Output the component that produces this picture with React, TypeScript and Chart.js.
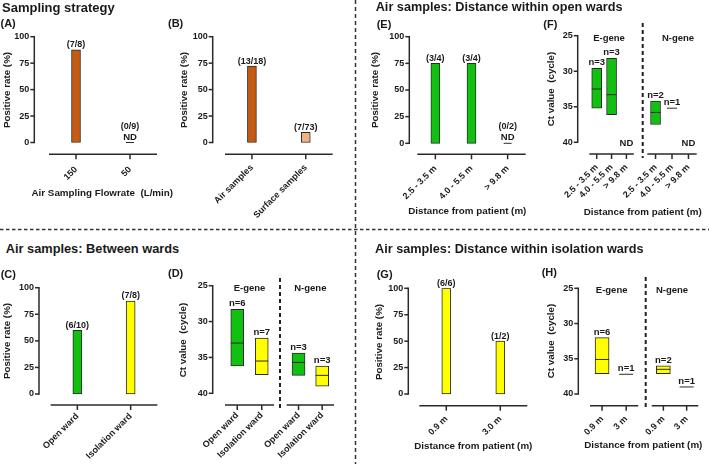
import React, { useEffect, useRef } from "react";
import { Chart, registerables } from "chart.js";

Chart.register(...registerables);

const FONT = "'Liberation Sans', Arial, Helvetica, sans-serif";
const INK = "#1a1a1a";
const AXIS = "#2a2a2a";
const ORANGE = "#c55a11";
const LIGHT_ORANGE = "#f4b183";
const GREEN = "#12c012";
const YELLOW = "#ffff00";

// ---- tick values ----
const rateTicks = [0, 25, 50, 75, 100];
const ctTicks = [25, 30, 35, 40];

// ---- (A) sampling flowrate ----
const flowCategories = ["150", "50"];
const flowRates = [87.5, 0];
const flowCounts = ["(7/8)", "(0/9)"];

// ---- (B) sample type ----
const sampleCategories = ["Air samples", "Surface samples"];
const sampleRates = [72.2, 9.6];
const sampleCounts = ["(13/18)", "(7/73)"];

// ---- (C) between wards ----
const wardCategories = ["Open ward", "Isolation ward"];
const wardRates = [60, 87.5];
const wardCounts = ["(6/10)", "(7/8)"];

// ---- (D) Ct between wards ----
const wardCtEgeneRange = [[28.3, 36.2], [32.3, 37.4]];
const wardCtEgeneMedian = [33.0, 35.5];
const wardCtEgeneN = ["n=6", "n=7"];
const wardCtNgeneRange = [[34.4, 37.5], [36.2, 39.0]];
const wardCtNgeneMedian = [35.7, 37.5];
const wardCtNgeneN = ["n=3", "n=3"];

// ---- (E) distance within open wards ----
const openDistCategories = ["2.5 - 3.5 m", "4.0 - 5.5 m", "> 9.8 m"];
const openDistRates = [75, 75, 0];
const openDistCounts = ["(3/4)", "(3/4)", "(0/2)"];

// ---- (F) Ct within open wards ----
const openCtEgeneRange = [[29.6, 35.2], [28.2, 36.1], null];
const openCtEgeneMedian = [32.5, 33.3, null];
const openCtEgeneN = ["n=3", "n=3", "ND"];
const openCtNgeneRange = [[34.2, 37.5], [35.2, 35.2], null];
const openCtNgeneMedian = [35.8, 35.2, null];
const openCtNgeneN = ["n=2", "n=1", "ND"];

// ---- (G) distance within isolation wards ----
const isoDistCategories = ["0.9 m", "3.0 m"];
const isoDistRates = [100, 50];
const isoDistCounts = ["(6/6)", "(1/2)"];

// ---- (H) Ct within isolation wards ----
const isoCtCategories = ["0.9 m", "3 m"];
const isoCtEgeneRange = [[32.0, 37.1], [37.2, 37.2]];
const isoCtEgeneMedian = [35.1, 37.2];
const isoCtEgeneN = ["n=6", "n=1"];
const isoCtNgeneRange = [[36.0, 37.1], [39.0, 39.0]];
const isoCtNgeneMedian = [36.5, 39.0];
const isoCtNgeneN = ["n=2", "n=1"];

type Spec = {
  kind: "rate" | "ct";
  box: number[]; // canvas x, y, w, h (page)
  area: number[]; // chart area l, r, t, b (page)
  gap: number;
  labelPad: number;
  yAxisX?: number;
  categories: string[];
  colors: string[];
  barWidth: number;
  values?: number[];
  counts?: string[];
  ranges?: (number[] | null)[];
  medians?: (number | null)[];
  nLabels?: string[];
  group?: string;
  groupDx?: number;
};

function font(size: number) {
  return `bold ${size}px ${FONT}`;
}

function buildConfig(s: Spec) {
  const [cx, cy, cw, ch] = s.box;
  const [l, r, t, b] = s.area;
  const H = b - t;
  const isRate = s.kind === "rate";
  let yMin: number, yMax: number;
  if (isRate) {
    yMax = 100;
    yMin = (-s.gap * 100) / (H - s.gap);
  } else {
    const k = s.gap / H;
    yMin = 25;
    yMax = (40 - 25 * k) / (1 - k);
  }
  const showY = s.yAxisX != null;
  const tickVals = isRate ? rateTicks : ctTicks;

  const prism = {
    id: "prism",
    afterDatasetsDraw(chart: any) {
      const ctx = chart.ctx as CanvasRenderingContext2D;
      const ca = chart.chartArea;
      const xs = chart.scales.x;
      const ys = chart.scales.y;
      const meta = chart.getDatasetMeta(0);
      const seg = (x1: number, y1: number, x2: number, y2: number) => {
        ctx.beginPath();
        ctx.moveTo(x1, y1);
        ctx.lineTo(x2, y2);
        ctx.stroke();
      };
      ctx.save();
      ctx.strokeStyle = AXIS;
      ctx.lineWidth = 1.5;
      seg(ca.left, ca.bottom, ca.right, ca.bottom);
      s.categories.forEach((_, i) => {
        const px = xs.getPixelForValue(i);
        seg(px, ca.bottom, px, ca.bottom + 5);
      });
      if (showY) {
        const ax = (s.yAxisX as number) - cx;
        const p1 = ys.getPixelForValue(tickVals[0]);
        const p2 = ys.getPixelForValue(tickVals[tickVals.length - 1]);
        seg(ax, Math.min(p1, p2) - 0.75, ax, Math.max(p1, p2) + 0.75);
        tickVals.forEach((v) => {
          const py = ys.getPixelForValue(v);
          seg(ax - 4, py, ax, py);
        });
      }
      ctx.fillStyle = INK;
      ctx.textAlign = "center";
      ctx.textBaseline = "alphabetic";
      if (isRate) {
        const y0 = ys.getPixelForValue(0);
        (s.values as number[]).forEach((v, i) => {
          const x = meta.data[i].x;
          const label = (s.counts as string[])[i];
          if (v === 0) {
            ctx.lineWidth = 1;
            seg(x - s.barWidth / 2 + 0.5, y0, x + s.barWidth / 2 - 0.5, y0);
            ctx.font = font(9.5);
            ctx.fillText("ND", x, y0 - 3);
            ctx.font = font(9);
            ctx.fillText(label, x, y0 - 14);
          } else {
            const top = ys.getPixelForValue(v);
            ctx.font = font(9);
            ctx.fillText(label, x, top - 2.5);
          }
        });
      } else {
        (s.ranges as (number[] | null)[]).forEach((rg, i) => {
          const x = xs.getPixelForValue(i);
          const label = (s.nLabels as string[])[i];
          if (!rg) {
            ctx.font = font(9.5);
            ctx.textBaseline = "middle";
            ctx.fillText(label, x, ys.getPixelForValue(40) + 1);
            ctx.textBaseline = "alphabetic";
            return;
          }
          const top = Math.min(ys.getPixelForValue(rg[0]), ys.getPixelForValue(rg[1]));
          const med = (s.medians as (number | null)[])[i];
          if (med != null) {
            const py = ys.getPixelForValue(med);
            ctx.lineWidth = 1;
            ctx.strokeStyle = AXIS;
            seg(x - s.barWidth / 2, py, x + s.barWidth / 2, py);
          }
          ctx.font = font(9.5);
          ctx.fillText(label, x, top - 3);
        });
        if (s.group) {
          ctx.font = font(9.5);
          ctx.textBaseline = "middle";
          ctx.fillText(s.group, (ca.left + ca.right) / 2 + (s.groupDx || 0), ys.getPixelForValue(25) + 2.5);
        }
      }
      ctx.restore();
    },
  };

  return {
    type: "bar",
    data: {
      labels: s.categories,
      datasets: [
        {
          data: isRate ? s.values : s.ranges,
          backgroundColor: s.colors,
          borderColor: AXIS,
          borderWidth: 1,
          borderSkipped: false,
          barThickness: s.barWidth,
        },
      ],
    },
    options: {
      responsive: false,
      animation: false,
      events: [],
      layout: {
        autoPadding: false,
        padding: { left: 0, right: cx + cw - r, top: t - cy, bottom: 0 },
      },
      plugins: { legend: { display: false }, tooltip: { enabled: false } },
      scales: {
        x: {
          type: "category",
          offset: true,
          grid: { display: false, drawTicks: false },
          border: { display: false },
          ticks: {
            autoSkip: false,
            minRotation: 45,
            maxRotation: 45,
            padding: s.labelPad,
            color: INK,
            font: { family: FONT, size: 9, weight: "bold" },
          },
          afterFit: (sc: any) => {
            sc.height = cy + ch - b;
          },
        },
        y: {
          type: "linear",
          display: showY,
          reverse: !isRate,
          min: yMin,
          max: yMax,
          grid: { display: false, drawTicks: false },
          border: { display: false },
          ticks: {
            autoSkip: false,
            padding: showY ? l - (s.yAxisX as number) + 5 : 0,
            color: INK,
            font: { family: FONT, size: 9, weight: "bold" },
          },
          afterBuildTicks: (sc: any) => {
            sc.ticks = tickVals.map((v) => ({ value: v }));
          },
          afterFit: (sc: any) => {
            sc.width = l - cx;
          },
        },
      },
    },
    plugins: [prism],
  };
}

const TOP_Y = 8;
const TOP_H = 220;
const BOT_Y = 256;
const BOT_H = 208;

const specs: Spec[] = [
  {
    kind: "rate", box: [0, TOP_Y, 172, TOP_H], area: [49, 157, 36.7, 154.3], gap: 11.8, yAxisX: 34.3, labelPad: 10,
    categories: flowCategories, values: flowRates, counts: flowCounts, colors: [ORANGE, ORANGE], barWidth: 9,
  },
  {
    kind: "rate", box: [172, TOP_Y, 178, TOP_H], area: [225, 332.7, 36.7, 154.3], gap: 11.8, yAxisX: 212.7, labelPad: 8,
    categories: sampleCategories, values: sampleRates, counts: sampleCounts, colors: [ORANGE, LIGHT_ORANGE], barWidth: 9,
  },
  {
    kind: "rate", box: [362, TOP_Y, 170, TOP_H], area: [417.3, 525.7, 36.7, 154.3], gap: 11, yAxisX: 409.3, labelPad: 9,
    categories: openDistCategories, values: openDistRates, counts: openDistCounts, colors: [GREEN, GREEN, GREEN], barWidth: 9,
  },
  {
    kind: "ct", box: [535, TOP_Y, 108, TOP_H], area: [589.3, 637.3, 35.7, 154], gap: 11.7, yAxisX: 577.7, labelPad: 8,
    categories: openDistCategories, ranges: openCtEgeneRange, medians: openCtEgeneMedian, nLabels: openCtEgeneN,
    colors: [GREEN, GREEN, GREEN], barWidth: 10, group: "E-gene", groupDx: -2.5,
  },
  {
    kind: "ct", box: [600, TOP_Y, 109, TOP_H], area: [647.3, 696.7, 35.7, 154], gap: 11.7, labelPad: 8,
    categories: openDistCategories, ranges: openCtNgeneRange, medians: openCtNgeneMedian, nLabels: openCtNgeneN,
    colors: [GREEN, GREEN, GREEN], barWidth: 10, group: "N-gene", groupDx: 6,
  },
  {
    kind: "rate", box: [0, BOT_Y, 172, BOT_H], area: [50.7, 157.3, 287.7, 405], gap: 11, yAxisX: 39, labelPad: 6,
    categories: wardCategories, values: wardRates, counts: wardCounts, colors: [GREEN, YELLOW], barWidth: 9,
  },
  {
    kind: "ct", box: [172, BOT_Y, 108, BOT_H], area: [225, 274, 285.7, 405], gap: 11.7, yAxisX: 212.7, labelPad: 5,
    categories: wardCategories, ranges: wardCtEgeneRange, medians: wardCtEgeneMedian, nLabels: wardCtEgeneN,
    colors: [GREEN, YELLOW], barWidth: 13, group: "E-gene",
  },
  {
    kind: "ct", box: [240, BOT_Y, 110, BOT_H], area: [286.7, 334, 285.7, 405], gap: 11.7, labelPad: 5,
    categories: wardCategories, ranges: wardCtNgeneRange, medians: wardCtNgeneMedian, nLabels: wardCtNgeneN,
    colors: [GREEN, YELLOW], barWidth: 13, group: "N-gene",
  },
  {
    kind: "rate", box: [362, BOT_Y, 170, BOT_H], area: [419.3, 527.3, 288.3, 405.7], gap: 11.7, yAxisX: 408.3, labelPad: 8,
    categories: isoDistCategories, values: isoDistRates, counts: isoDistCounts, colors: [YELLOW, YELLOW], barWidth: 9,
  },
  {
    kind: "ct", box: [535, BOT_Y, 108, BOT_H], area: [590, 638.3, 288.3, 405.7], gap: 11.7, yAxisX: 578.3, labelPad: 8,
    categories: isoCtCategories, ranges: isoCtEgeneRange, medians: isoCtEgeneMedian, nLabels: isoCtEgeneN,
    colors: [YELLOW, YELLOW], barWidth: 14, group: "E-gene", groupDx: -2.5,
  },
  {
    kind: "ct", box: [605, BOT_Y, 104, BOT_H], area: [651.7, 698.3, 288.3, 405.7], gap: 11.7, labelPad: 8,
    categories: isoCtCategories, ranges: isoCtNgeneRange, medians: isoCtNgeneMedian, nLabels: isoCtNgeneN,
    colors: [YELLOW, YELLOW], barWidth: 14, group: "N-gene", groupDx: -3,
  },
];

function ChartBox({ spec }: { spec: Spec }) {
  const ref = useRef<HTMLCanvasElement>(null);
  useEffect(() => {
    const c = new Chart(ref.current as HTMLCanvasElement, buildConfig(spec) as any);
    return () => c.destroy();
  }, []);
  const [x, y, w, h] = spec.box;
  return (
    <canvas
      ref={ref}
      width={w}
      height={h}
      style={{ position: "absolute", left: x, top: y, width: w, height: h }}
    />
  );
}

function Label({ x, y, size, text }: { x: number; y: number; size: number; text: string }) {
  return (
    <div
      style={{
        position: "absolute", left: x, top: y, fontSize: size, fontWeight: "bold",
        lineHeight: 1, whiteSpace: "pre",
      }}
    >
      {text}
    </div>
  );
}

function Centered({ x, y, text, rotate }: { x: number; y: number; text: string; rotate?: boolean }) {
  return (
    <div
      style={{
        position: "absolute", left: x, top: y, fontSize: 9.8, fontWeight: "bold", lineHeight: 1,
        whiteSpace: "pre",
        transform: `translate(-50%, -50%)${rotate ? " rotate(-90deg)" : ""}`,
      }}
    >
      {text}
    </div>
  );
}

export default function App() {
  return (
    <div
      style={{
        position: "absolute", left: 0, top: 0, width: 709, height: 464, overflow: "hidden",
        background: "#ffffff", fontFamily: FONT, color: INK,
      }}
    >
      <svg width={709} height={464} style={{ position: "absolute", left: 0, top: 0 }}>
        <line x1={355.5} y1={0} x2={355.5} y2={464} stroke="#333" strokeWidth={1.5} strokeDasharray="4 3" />
        <line x1={0} y1={229.5} x2={709} y2={229.5} stroke="#333" strokeWidth={1.5} strokeDasharray="3.5 2.5" />
        <line x1={642.7} y1={23} x2={642.7} y2={158} stroke="#222" strokeWidth={2} strokeDasharray="4 3" />
        <line x1={280} y1={278} x2={280} y2={410} stroke="#222" strokeWidth={2} strokeDasharray="4 3" />
        <line x1={645.7} y1={277} x2={645.7} y2={410} stroke="#222" strokeWidth={2} strokeDasharray="4 3" />
      </svg>

      {specs.map((s, i) => (
        <ChartBox key={i} spec={s} />
      ))}

      <Label x={2} y={1} size={13} text="Sampling strategy" />
      <Label x={375.7} y={1} size={12.7} text="Air samples: Distance within open wards" />
      <Label x={5.7} y={242.5} size={12.8} text="Air samples: Between wards" />
      <Label x={375} y={243} size={12.7} text="Air samples: Distance within isolation wards" />

      <Label x={0.5} y={18} size={11} text="(A)" />
      <Label x={168} y={18} size={11} text="(B)" />
      <Label x={376.7} y={18.5} size={11} text="(E)" />
      <Label x={543.3} y={18.5} size={11} text="(F)" />
      <Label x={0.7} y={268.5} size={11} text="(C)" />
      <Label x={168} y={268} size={11} text="(D)" />
      <Label x={376.7} y={268.5} size={11} text="(G)" />
      <Label x={541.7} y={267} size={11} text="(H)" />

      <Centered x={7} y={90} text="Positive rate (%)" rotate />
      <Centered x={184} y={90} text="Positive rate (%)" rotate />
      <Centered x={7.3} y={341} text="Positive rate (%)" rotate />
      <Centered x={375} y={90} text="Positive rate (%)" rotate />
      <Centered x={379} y={341.5} text="Positive rate (%)" rotate />
      <Centered x={550.7} y={89} text="Ct value  (cycle)" rotate />
      <Centered x={183.3} y={340} text="Ct value  (cycle)" rotate />
      <Centered x={550.7} y={341} text="Ct value  (cycle)" rotate />

      <Centered x={102.3} y={192.5} text="Air Sampling Flowrate  (L/min)" />
      <Centered x={467.3} y={210.7} text="Distance from patient (m)" />
      <Centered x={642.7} y={211.7} text="Distance from patient (m)" />
      <Centered x={473.3} y={446} text="Distance from patient (m)" />
      <Centered x={643.3} y={445} text="Distance from patient (m)" />
    </div>
  );
}
